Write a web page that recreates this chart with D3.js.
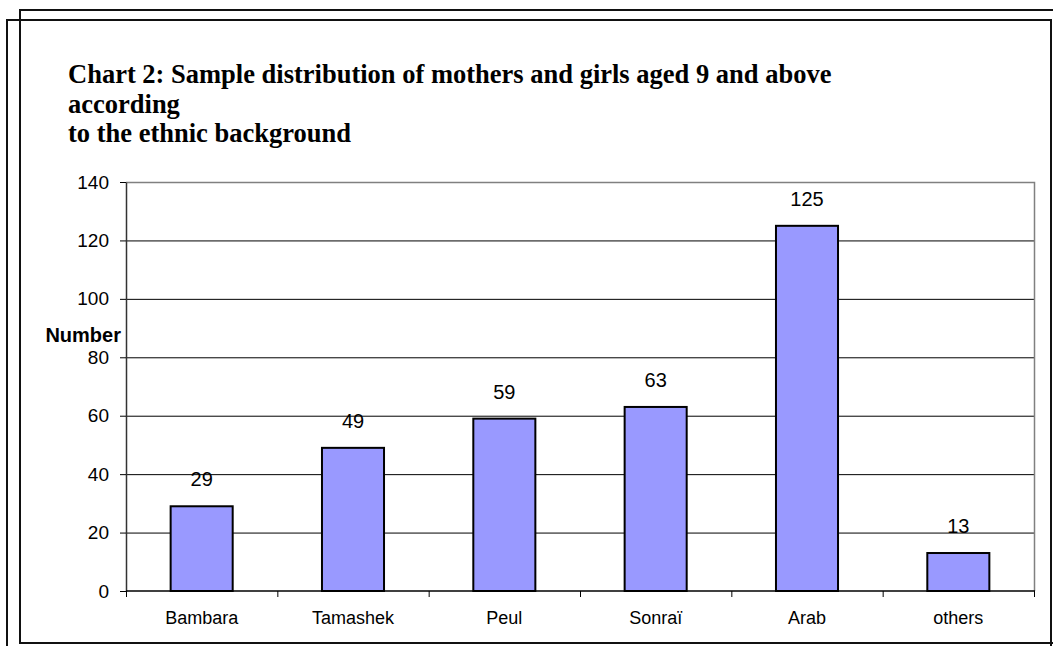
<!DOCTYPE html>
<html>
<head>
<meta charset="utf-8">
<script src="https://cdn.jsdelivr.net/npm/d3@7"></script>
<style>
  html, body { margin: 0; padding: 0; background: #fff; }
  svg { display: block; }
</style>
</head>
<body>
<svg id="chart" width="1053" height="646"></svg>
<script>
// Ethnic groups and number of respondents in each
const categories = ["Bambara", "Tamashek", "Peul", "Sonraï", "Arab", "others"];
const counts = [29, 49, 59, 63, 125, 13];
const yTicks = [0, 20, 40, 60, 80, 100, 120, 140];
const titleLines = [
  "Chart 2: Sample distribution of mothers and girls aged 9 and above",
  "according",
  "to the ethnic background"
];
const yAxisTitle = "Number";

const svg = d3.select("#chart");

// Two offset page frames
svg.append("rect")
  .attr("x", 20).attr("y", 10).attr("width", 1060).attr("height", 633)
  .attr("fill", "none").attr("stroke", "#111").attr("stroke-width", 2);
svg.append("rect")
  .attr("x", 7).attr("y", 20).attr("width", 1044).attr("height", 660)
  .attr("fill", "none").attr("stroke", "#111").attr("stroke-width", 2);

// Title
const title = svg.append("text")
  .attr("font-family", "'Liberation Serif', 'Times New Roman', serif")
  .attr("font-weight", "bold")
  .attr("font-size", 26.5)
  .attr("fill", "#000");
titleLines.forEach((line, i) => {
  title.append("tspan").attr("x", 68).attr("y", 83 + i * 29.5).text(line);
});

// Plot area
const plot = { left: 126, right: 1034, top: 182, bottom: 591 };

const x = d3.scaleBand()
  .domain(categories)
  .range([plot.left, plot.right])
  .padding(0);

const y = d3.scaleLinear()
  .domain([0, 140])
  .range([plot.bottom, plot.top]);

// Horizontal gridlines
svg.append("g")
  .selectAll("line")
  .data(yTicks.filter(t => t > 0 && t < 140))
  .join("line")
  .attr("x1", plot.left).attr("x2", plot.right)
  .attr("y1", d => y(d) + 0.5).attr("y2", d => y(d) + 0.5)
  .attr("stroke", "#000").attr("stroke-width", 1);

// Plot area border (top and right)
svg.append("path")
  .attr("d", `M${plot.left},${plot.top + 0.5}H${plot.right + 0.5}V${plot.bottom}`)
  .attr("fill", "none").attr("stroke", "#808080").attr("stroke-width", 1.5);

// Bars
const barW = x.bandwidth() * 0.41;
svg.append("g")
  .selectAll("rect")
  .data(categories.map((c, i) => ({ c, v: counts[i] })))
  .join("rect")
  .attr("x", d => x(d.c) + x.bandwidth() / 2 - barW / 2)
  .attr("y", d => y(d.v))
  .attr("width", barW)
  .attr("height", d => y(0) - y(d.v))
  .attr("fill", "#9999FF")
  .attr("stroke", "#000")
  .attr("stroke-width", 2);

// Value labels above the bars
svg.append("g")
  .selectAll("text")
  .data(categories.map((c, i) => ({ c, v: counts[i] })))
  .join("text")
  .attr("x", d => x(d.c) + x.bandwidth() / 2)
  .attr("y", d => y(d.v) - 20)
  .attr("text-anchor", "middle")
  .attr("font-family", "'Liberation Sans', Arial, sans-serif")
  .attr("font-size", 20)
  .attr("fill", "#000")
  .text(d => d.v);

// Y axis
const yAxis = svg.append("g")
  .attr("transform", `translate(${plot.left},0)`)
  .call(d3.axisLeft(y).tickValues(yTicks).tickSize(6).tickSizeOuter(0).tickPadding(11));
yAxis.select(".domain").attr("stroke", "#333").attr("stroke-width", 1.5);
yAxis.selectAll(".tick line").attr("stroke", "#000");
yAxis.selectAll(".tick text")
  .attr("font-family", "'Liberation Sans', Arial, sans-serif")
  .attr("font-size", 19)
  .attr("fill", "#000");

// X axis line with ticks at category boundaries
const xTickPos = categories.map(c => x(c)).concat([plot.right]);
svg.append("line")
  .attr("x1", plot.left).attr("x2", plot.right + 1)
  .attr("y1", plot.bottom).attr("y2", plot.bottom)
  .attr("stroke", "#000").attr("stroke-width", 1.5);
svg.append("g")
  .selectAll("line")
  .data(xTickPos)
  .join("line")
  .attr("x1", d => d + 0.5).attr("x2", d => d + 0.5)
  .attr("y1", plot.bottom).attr("y2", plot.bottom + 6)
  .attr("stroke", "#000").attr("stroke-width", 1);

// Category labels
svg.append("g")
  .selectAll("text")
  .data(categories)
  .join("text")
  .attr("x", d => x(d) + x.bandwidth() / 2)
  .attr("y", 624)
  .attr("text-anchor", "middle")
  .attr("font-family", "'Liberation Sans', Arial, sans-serif")
  .attr("font-size", 18)
  .attr("fill", "#000")
  .text(d => d);

// Y axis title
svg.append("text")
  .attr("x", 121)
  .attr("y", 342)
  .attr("text-anchor", "end")
  .attr("font-family", "'Liberation Sans', Arial, sans-serif")
  .attr("font-weight", "bold")
  .attr("font-size", 20)
  .attr("fill", "#000")
  .text(yAxisTitle);
</script>
</body>
</html>
